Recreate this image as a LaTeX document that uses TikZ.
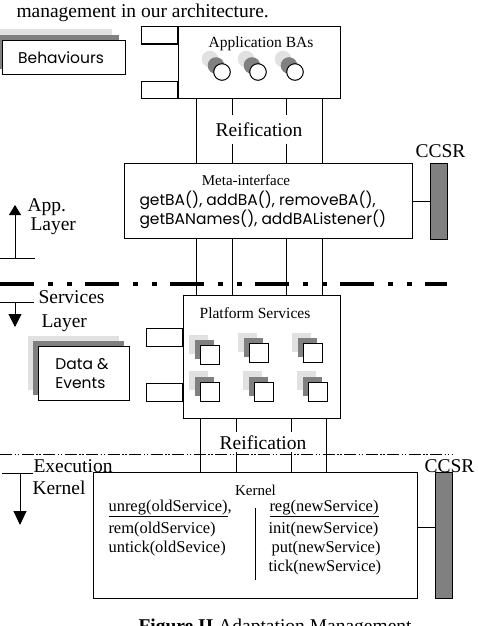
\documentclass[tikz,border=0pt]{standalone}
\usepackage{fontspec}
\setmainfont{Liberation Serif}
\setsansfont{Poppins}
\usetikzlibrary{arrows.meta,positioning,shadows,calc}
\definecolor{shadelight}{RGB}{225,225,225}
\definecolor{shadedark}{RGB}{128,128,128}
\definecolor{ccsrfill}{RGB}{128,128,128}

\begin{document}
\begin{tikzpicture}[
  x=1pt, y=-1pt,
  line width=1pt,
  layerbox/.style={
    draw,
    line width=1.1pt,
    fill=white,
    anchor=north west,
    inner sep=0pt
  },
  tab/.style={
    draw,
    line width=1.1pt,
    fill=white,
    minimum width=36pt,
    minimum height=17.5pt,
    inner sep=0pt
  },
  ccsr/.style={
    draw,
    fill=ccsrfill,
    minimum width=17pt,
    inner sep=0pt,
    anchor=north west
  },
  shaded/.style 2 args={
    copy shadow={shadow xshift=-2*#1, shadow yshift=2*#2, fill=shadelight, draw=none},
    copy shadow={shadow xshift=-#1, shadow yshift=#2, fill=shadedark, draw=none}
  },
  ba/.style={
    circle, draw, fill=white, minimum size=16.6pt, inner sep=0pt,
    shaded={6pt}{6.5pt}
  },
  service/.style={
    draw, fill=white, minimum size=19pt, inner sep=0pt,
    shaded={5.5pt}{5.5pt}
  },
  big/.style={font=\fontsize{19.5}{22}\selectfont, inner sep=0pt},
  title/.style={font=\fontsize{15.5}{18}\selectfont, inner sep=0pt, anchor=base},
  call/.style={font=\fontsize{16.5}{19}\selectfont, inner sep=0pt, anchor=base west},
  gothic/.style={font=\sffamily\fontsize{15.5}{19}\selectfont, inner sep=0pt}
]
  \useasboundingbox (0,0) rectangle (478,626);

  % Text around the figure
  \node[big, anchor=base west] (lead) at (16,18) {management in our architecture.};
  \node[big, anchor=base west] (caption) at (138,632) {\textbf{Figure II} Adaptation Management};

  % Application layer
  \node[layerbox, minimum width=162pt, minimum height=72pt] (apps) at (178,26) {};
  \node[tab, anchor=north east] (apptab1) at (apps.north west) {};
  \node[tab, anchor=south east] (apptab2) at (apps.south west) {};
  \node[title] (appstitle) at (261,48) {Application BAs};
  \node[ba] (ba1) at (222,72) {};
  \node[ba] (ba2) at (258,72) {};
  \node[ba] (ba3) at (295,72) {};

  \node[layerbox, minimum width=123pt, minimum height=34pt,
        shaded={7pt}{6pt}] (behav) at (2,40) {};
  \node[gothic] at ($(behav.center)+(-3,0)$) {Behaviours};

  \node[big, anchor=base, inner xsep=5pt, inner ysep=7pt] (reif1) at (259,136) {Reification};

  \node[layerbox, minimum width=288pt, minimum height=75pt] (meta) at (124,163) {};
  \node[title, font=\fontsize{15}{18}\selectfont] (metatitle) at (246,185) {Meta-interface};
  \node[gothic, anchor=base west] (metaline1) at (139,205) {getBA(), addBA(), removeBA(),};
  \node[gothic, anchor=base west] (metaline2) at (139,224) {getBANames(), addBAListener()};

  \node[ccsr, minimum height=76pt] (ccsr1) at (430,163) {};
  \node[big, anchor=base west] (ccsrlbl1) at (415,157) {CCSR};

  \draw (apps.south -| 196,0) -- (meta.north -| 196,0);
  \draw (apps.south -| 232,0) -- (reif1.north -| 232,0);
  \draw (reif1.south -| 232,0) -- (meta.north -| 232,0);
  \draw (apps.south -| 286,0) -- (reif1.north -| 286,0);
  \draw (reif1.south -| 286,0) -- (meta.north -| 286,0);
  \draw (apps.south -| 322,0) -- (meta.north -| 322,0);
  \draw (meta.east |- ccsr1.west) -- (ccsr1.west);

  % Layer borders
  \draw (0,258) -- (35,258);
  \draw[-{Triangle[length=10pt,width=12pt]}] (15,258) -- (15,205);
  \node[big, anchor=base west] (applbl1) at (27,211) {App.};
  \node[big, anchor=base west] (applbl2) at (30,230) {Layer};

  \draw[line width=4pt, dash pattern=on 34pt off 14pt on 5pt off 14pt on 5pt off 13pt] (0,284) -- (447,284);

  \draw (0,302) -- (34,302);
  \draw[-{Triangle[length=13pt,width=13pt]}] (15,302) -- (15,327);
  \node[big, anchor=base west] (srvlbl1) at (38,303) {Services};
  \node[big, anchor=base west] (srvlbl2) at (41,327) {Layer};

  % Services layer
  \node[layerbox, minimum width=157pt, minimum height=123pt] (platform) at (183,295) {};
  \node[tab, anchor=north east, minimum height=18pt] (plattab1) at ($(platform.north west)+(0,33)$) {};
  \node[tab, anchor=south east, minimum height=18pt] (plattab2) at ($(platform.south west)+(0,-17)$) {};
  \node[title] (plattitle) at (255,318) {Platform Services};
  \node[service] (srv1) at (209.5,355) {};
  \node[service] (srv2) at (258.5,353) {};
  \node[service] (srv3) at (312.5,353) {};
  \node[service] (srv4) at (209.5,391.5) {};
  \node[service] (srv5) at (263.5,391.5) {};
  \node[service] (srv6) at (317.5,391.5) {};

  \node[layerbox, minimum width=91pt, minimum height=54pt,
        shaded={5.5pt}{5.5pt}] (data) at (38,346) {};
  \node[gothic, align=left] at ($(data.center)+(-2,0)$) {Data \&\\Events};

  \draw (meta.south -| 196,0) -- (platform.north -| 196,0);
  \draw (meta.south -| 232,0) -- (platform.north -| 232,0);
  \draw (meta.south -| 286,0) -- (platform.north -| 286,0);
  \draw (meta.south -| 322,0) -- (platform.north -| 322,0);

  \node[big, anchor=base, inner xsep=5pt, inner ysep=2.5pt] (reif2) at (263,449) {Reification};

  \draw[dash pattern=on 12pt off 2.5pt on 1.5pt off 1.5pt on 1.5pt off 2.5pt] (0,454) -- (453,454);

  \draw (2,473) -- (33,473);
  \draw[-{Triangle[length=14pt,width=13pt]}] (20,473) -- (20,525);
  \node[big, anchor=base west] (exelbl1) at (33,472) {Execution};
  \node[big, anchor=base west] (exelbl2) at (32,494) {Kernel};

  % Kernel
  \node[layerbox, minimum width=324pt, minimum height=126pt] (kernel) at (93,472) {};
  \node[title, font=\fontsize{15}{18}\selectfont] (kerneltitle) at (255.5,495) {Kernel};
  \node[call] (unreg) at (108,511) {\underline{unreg(oldService)},};
  \node[call] (rem) at (108,533) {rem(oldService)};
  \node[call] (untick) at (108,552) {untick(oldSevice)};
  \node[call] (reg) at (269,511) {\underline{reg(newService)}};
  \node[call] (init) at (268,533) {init(newService)};
  \node[call] (put) at (271,552) {put(newService)};
  \node[call] (tick) at (268,571) {tick(newService)};
  \draw (255,508) -- (255,580);

  \node[ccsr, minimum height=126pt] (ccsr2) at (435,472) {};
  \node[big, anchor=base west] (ccsrlbl2) at (424,472) {CCSR};

  \draw (platform.south -| 200,0) -- (kernel.north -| 200,0);
  \draw (platform.south -| 236,0) -- (reif2.north -| 236,0);
  \draw (reif2.south -| 236,0) -- (kernel.north -| 236,0);
  \draw (platform.south -| 291,0) -- (reif2.north -| 291,0);
  \draw (reif2.south -| 291,0) -- (kernel.north -| 291,0);
  \draw (platform.south -| 326,0) -- (kernel.north -| 326,0);
  \draw (kernel.east |- 0,527) -- (ccsr2.west |- 0,527);

\end{tikzpicture}
\end{document}
